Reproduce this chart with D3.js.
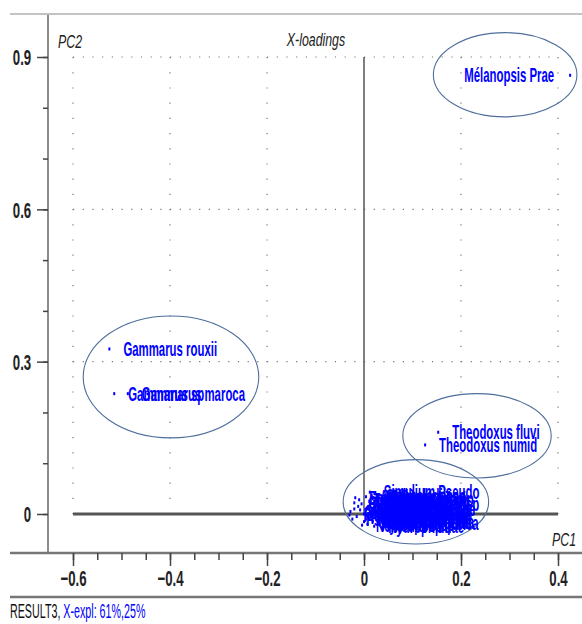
<!DOCTYPE html>
<html>
<head>
<meta charset="utf-8">
<script src="https://cdn.jsdelivr.net/npm/d3@7"></script>
<style>
  body { margin: 0; background: #fff; }
  svg text { font-family: "Liberation Sans", Arial, sans-serif; }
</style>
</head>
<body>
<div id="chart"></div>
<script>
// X-loadings, PC1 vs PC2
const names = [
  "Mélanopsis Prae", "Gammarus rouxii", "Gammarus sp", "Gammarus maroca",
  "Theodoxus fluvi", "Theodoxus numid",
  "Simulium Pseudo", "Baetis rhodani", "Chironomidae", "Hydropsyche sp",
  "Ephemerella ign", "Caenis luctuosa", "Oligochaeta", "Physa acuta",
  "Ancylus fluviat", "Dugesia sp", "Hydracarina", "Elmis maugetii",
  "Tabanidae", "Ceratopogonida", "Tipulidae", "Limnius sp",
  "Hydroptila sp", "Rhyacophila sp", "Choroterpes sp", "Ecdyonurus sp",
  "Atherix sp", "Antocha sp", "Potamopyrgus an", "Lymnaea trunca",
  "Hydraena sp", "Psychodidae", "Chimarra marg", "Cheumatopsyche",
  "Orthocladiinae", "Dixidae", "Gomphus sp", "Onychogomphus",
  "Calopteryx sp", "Nemoura sp", "Hydrophilidae", "Helophorus sp",
  "Empididae", "Micronecta sp", "Pisidium sp", "Centroptilum"
];
const pc1 = [
  0.425, -0.525, -0.515, -0.487,
  0.153, 0.126,
  0.012, 0.018, -0.020, 0.026,
  0.013, 0.004, -0.028, -0.015,
  0.022, -0.005, 0.009, 0.026,
  -0.010, 0.018, 0.000, 0.030,
  0.007, 0.024, -0.020, 0.020,
  0.004, 0.014, -0.008, 0.028,
  0.011, -0.024, 0.022, 0.005,
  0.016, -0.012, 0.030, 0.000,
  0.026, -0.004, 0.021, 0.009,
  -0.018, 0.029, -0.030, 0.017
];
const pc2 = [
  0.864, 0.325, 0.237, 0.237,
  0.161, 0.136,
  0.043, 0.030, 0.010, 0.020,
  0.005, -0.010, 0.005, -0.005,
  0.000, 0.020, 0.015, -0.005,
  0.028, -0.015, 0.000, 0.010,
  -0.020, 0.030, 0.022, 0.012,
  0.034, -0.004, 0.008, -0.018,
  0.025, -0.010, 0.022, 0.010,
  0.036, 0.015, 0.000, -0.015,
  0.034, -0.022, -0.024, -0.008,
  0.032, 0.026, -0.002, 0.006
];
// label drawn on the left of the point
const labelLeft = ["Mélanopsis Prae"];

// groups marked by ellipses: centre and radii in loading units
const ellCx = [0.291, -0.398, 0.233, 0.107];
const ellCy = [0.865, 0.270, 0.154, 0.024];
const ellRx = [0.148, 0.181, 0.153, 0.150];
const ellRy = [0.083, 0.120, 0.083, 0.083];

const xMajor = [-0.6, -0.4, -0.2, 0, 0.2, 0.4];
const yMajor = [0, 0.3, 0.6, 0.9];

const W = 582, H = 624;
const svg = d3.select("#chart").append("svg").attr("width", W).attr("height", H);

const x = d3.scaleLinear().domain([-0.6, 0.4]).range([73, 558]);
const y = d3.scaleLinear().domain([0, 0.9]).range([514, 57]);
const axisY = 553, axisX = 48;
const fmt = d => Math.abs(d) < 1e-9 ? "0" : d3.format(".1f")(d);

// narrow text: the picture is squeezed sideways
function ntext(parent, px, py, str, size, sx) {
  return parent.append("g").attr("transform", `translate(${px},${py}) scale(${sx},1)`)
    .append("text").attr("font-size", size).text(str);
}

// frame lines
svg.append("line").attr("x1", 10).attr("x2", W).attr("y1", 14).attr("y2", 14)
  .attr("stroke", "#c4c4c4").attr("stroke-width", 2);
svg.append("line").attr("x1", axisX).attr("x2", axisX).attr("y1", 15).attr("y2", axisY)
  .attr("stroke", "#666").attr("stroke-width", 1.5);
svg.append("line").attr("x1", 10).attr("x2", W).attr("y1", axisY).attr("y2", axisY)
  .attr("stroke", "#777").attr("stroke-width", 2.5);
svg.append("line").attr("x1", 10).attr("x2", W).attr("y1", 597).attr("y2", 597)
  .attr("stroke", "#777").attr("stroke-width", 2.5);

// dotted grid
const grid = svg.append("g").attr("stroke", "#777").attr("stroke-width", 1.2);
grid.selectAll("line.v").data(xMajor.filter(d => d !== 0)).join("line")
  .attr("x1", d => x(d)).attr("x2", d => x(d))
  .attr("y1", y(0.9)).attr("y2", y(0))
  .attr("stroke-dasharray", "1.2,14");
grid.selectAll("line.h").data(yMajor.filter(d => d !== 0)).join("line")
  .attr("x1", x(-0.6)).attr("x2", x(0.4))
  .attr("y1", d => y(d)).attr("y2", d => y(d))
  .attr("stroke-dasharray", "1.2,8.5");

// zero lines
svg.append("line").attr("x1", x(0)).attr("x2", x(0)).attr("y1", y(0.9)).attr("y2", y(0))
  .attr("stroke", "#555").attr("stroke-width", 1.5);
svg.append("line").attr("x1", x(-0.6)).attr("x2", x(0.4)).attr("y1", y(0)).attr("y2", y(0))
  .attr("stroke", "#555").attr("stroke-width", 3);

// y axis ticks
const yAx = svg.append("g").attr("transform", `translate(${axisX},0)`);
yAx.call(d3.axisLeft(y).tickValues(d3.range(0, 0.95, 0.1)).tickSize(5).tickFormat(""));
yAx.append("g").call(d3.axisLeft(y).tickValues(yMajor).tickSize(11).tickFormat(fmt));
yAx.selectAll(".domain").remove();
yAx.selectAll("line").attr("stroke", "#444").attr("stroke-width", 1.5);
yAx.selectAll("text").attr("font-size", 22).attr("font-weight", "bold").attr("fill", "#222")
  .attr("x", -28).attr("dy", "0.36em").attr("transform", "scale(0.6,1)")
  .style("font-family", "'Liberation Sans', Arial, sans-serif");

// x axis ticks
const xAx = svg.append("g").attr("transform", `translate(0,${axisY})`);
xAx.call(d3.axisBottom(x).tickValues(d3.range(-0.6, 0.46, 0.05)).tickSize(7).tickFormat(""));
xAx.append("g").call(d3.axisBottom(x).tickValues(xMajor).tickSize(13).tickFormat(fmt));
xAx.selectAll(".domain").remove();
xAx.selectAll("line").attr("stroke", "#444").attr("stroke-width", 1.5);
xAx.selectAll("text").attr("font-size", 22).attr("font-weight", "bold").attr("fill", "#222")
  .attr("y", 33).attr("dy", 0).attr("transform", "scale(0.6,1)")
  .style("font-family", "'Liberation Sans', Arial, sans-serif");

// titles
ntext(svg, 58, 48, "PC2", 19, 0.65).attr("font-style", "italic").attr("fill", "#222");
ntext(svg, 316, 46, "X-loadings", 19, 0.65).attr("font-style", "italic")
  .attr("text-anchor", "middle").attr("fill", "#222");
ntext(svg, 552, 546, "PC1", 19, 0.65).attr("font-style", "italic").attr("fill", "#222");

// ellipses
svg.append("g").selectAll("ellipse").data(ellCx).join("ellipse")
  .attr("cx", d => x(d))
  .attr("cy", (d, i) => y(ellCy[i]))
  .attr("rx", (d, i) => x(ellRx[i]) - x(0))
  .attr("ry", (d, i) => y(0) - y(ellRy[i]))
  .attr("fill", "none").attr("stroke", "#4d6e9c").attr("stroke-width", 1.1);

// points and labels
const pts = names.map((n, i) => ({ name: n, x: pc1[i], y: pc2[i] }));
const pg = svg.append("g");
pg.selectAll("rect").data(pts).join("rect")
  .attr("x", d => x(d.x) - 1).attr("y", d => y(d.y) - 1.5)
  .attr("width", 2).attr("height", 3).attr("fill", "#0000ff");
pg.selectAll("g").data(pts).join("g")
  .attr("transform", d => {
    const lx = labelLeft.includes(d.name) ? x(d.x) - 16 : x(d.x) + 14;
    return `translate(${lx},${y(d.y)}) scale(0.57,1)`;
  })
  .append("text")
  .attr("dy", "0.36em")
  .attr("text-anchor", d => labelLeft.includes(d.name) ? "end" : "start")
  .attr("font-size", 20).attr("font-weight", "bold").attr("fill", "#0000ff")
  .text(d => d.name);

// footer
const foot = ntext(svg, 10, 618, "", 21, 0.51);
foot.append("tspan").attr("fill", "#111").text("RESULT3, ");
foot.append("tspan").attr("fill", "#0000ff").text("X-expl: 61%,25%");
</script>
</body>
</html>
